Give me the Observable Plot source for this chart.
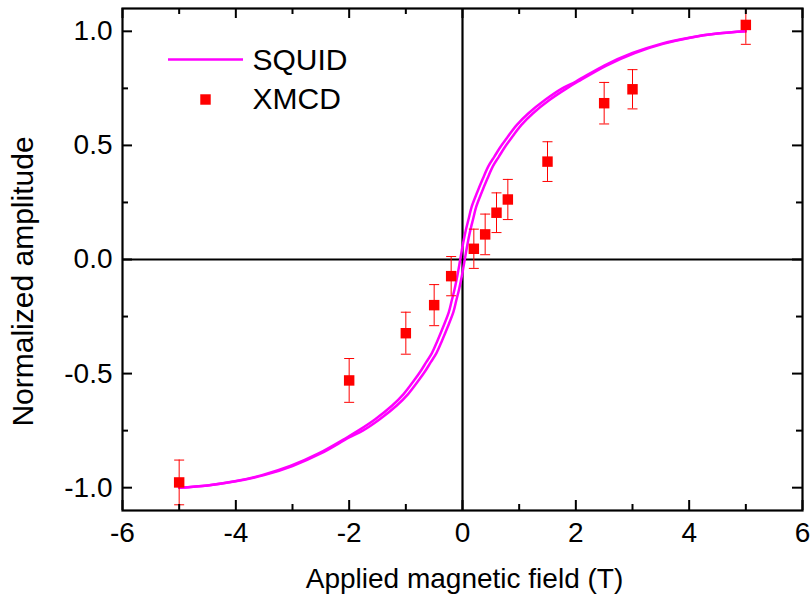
<!DOCTYPE html>
<html>
<head>
<meta charset="utf-8">
<script src="https://cdn.jsdelivr.net/npm/d3@7"></script>
<script src="https://cdn.jsdelivr.net/npm/@observablehq/plot@0.6"></script>
<style>
  html, body { margin: 0; padding: 0; background: #fff; }
  #chart { width: 811px; height: 596px; }
</style>
</head>
<body>
<div id="chart"></div>
<script>
// ---- Data ----
const seriesNames = ["SQUID", "XMCD"];
const xTitle = "Applied magnetic field (T)";
const yTitle = "Normalized amplitude";

// SQUID hysteresis loop, ascending branch
const squidUpH = [-5, -4.5, -4, -3.5, -3, -2.5, -2, -1.76, -1.46, -1.16, -0.96, -0.76, -0.66, -0.56, -0.46, -0.36, -0.26, -0.16, -0.11, -0.06, -0.01, 0.04, 0.09, 0.14, 0.19, 0.24, 0.34, 0.44, 0.54, 0.64, 0.74, 0.84, 1.04, 1.24, 1.54, 1.84, 2.04, 2.54, 3.04, 3.54, 4.02, 4.5, 5];
const squidUpM = [-1.0, -0.99, -0.972, -0.945, -0.905, -0.85, -0.78, -0.75, -0.70, -0.64, -0.59, -0.525, -0.49, -0.45, -0.41, -0.355, -0.295, -0.23, -0.18, -0.13, -0.07, 0, 0.07, 0.13, 0.18, 0.23, 0.295, 0.355, 0.41, 0.45, 0.49, 0.525, 0.59, 0.64, 0.70, 0.75, 0.78, 0.85, 0.905, 0.945, 0.972, 0.99, 1.0];
// SQUID hysteresis loop, descending branch
const squidDownH = [5, 4.5, 4, 3.5, 3, 2.5, 2, 1.76, 1.46, 1.16, 0.96, 0.76, 0.66, 0.56, 0.46, 0.36, 0.26, 0.16, 0.11, 0.06, 0.01, -0.04, -0.09, -0.14, -0.19, -0.24, -0.34, -0.44, -0.54, -0.64, -0.74, -0.84, -1.04, -1.24, -1.54, -1.84, -2.04, -2.54, -3.04, -3.54, -4.02, -4.5, -5];
const squidDownM = [1.0, 0.99, 0.972, 0.945, 0.905, 0.85, 0.78, 0.75, 0.70, 0.64, 0.59, 0.525, 0.49, 0.45, 0.41, 0.355, 0.295, 0.23, 0.18, 0.13, 0.07, 0, -0.07, -0.13, -0.18, -0.23, -0.295, -0.355, -0.41, -0.45, -0.49, -0.525, -0.59, -0.64, -0.70, -0.75, -0.78, -0.85, -0.905, -0.945, -0.972, -0.99, -1.0];

// XMCD points with error bars
const xmcdH   = [-5, -2, -1, -0.5, -0.2, 0.2, 0.4, 0.6, 0.8, 1.5, 2.5, 3, 5];
const xmcdM   = [-0.977, -0.53, -0.323, -0.2, -0.073, 0.047, 0.11, 0.205, 0.263, 0.429, 0.685, 0.746, 1.028];
const xmcdErr = [0.098, 0.096, 0.092, 0.09, 0.086, 0.086, 0.089, 0.087, 0.088, 0.087, 0.091, 0.086, 0.085];

// Axis ticks
const xMajorTicks = [-6, -4, -2, 0, 2, 4, 6];
const xMinorTicks = [-5, -3, -1, 1, 3, 5];
const yMajorTicks = [-1, -0.5, 0, 0.5, 1];
const yMinorTicks = [-0.75, -0.25, 0.25, 0.75];

// ---- Build tables ----
const squid = [
  ...squidUpH.map((h, i) => ({h, m: squidUpM[i], branch: "up"})),
  ...squidDownH.map((h, i) => ({h, m: squidDownM[i], branch: "down"}))
];
const xmcd = xmcdH.map((h, i) => ({h, m: xmcdM[i], e: xmcdErr[i]}));

// ---- Layout ----
const W = 811, H = 596;
const mL = 122, mR = 9, mT = 8, mB = 86;
const pw = W - mL - mR, ph = H - mT - mB;
const majLen = 10, minLen = 6;

const hline = {
  draw(context, size) {
    const w = Math.sqrt(size / Math.PI);
    context.moveTo(-w, 0);
    context.lineTo(w, 0);
  }
};

const magenta = "#ff00ff";
const red = "#ff0000";

const chart = Plot.plot({
  width: W, height: H,
  marginLeft: mL, marginRight: mR, marginTop: mT, marginBottom: mB,
  x: {domain: [-6, 6]},
  y: {domain: [-1.1, 1.1]},
  style: {fontFamily: "'Liberation Sans', Arial, sans-serif", fontSize: "28px", color: "black", background: "white"},
  marks: [
    // zero lines
    Plot.ruleX([0], {stroke: "black", strokeWidth: 2.2}),
    Plot.ruleY([0], {stroke: "black", strokeWidth: 2.2}),
    // SQUID loop
    Plot.line(squid, {x: "h", y: "m", z: "branch", stroke: magenta, strokeWidth: 2.5, curve: "catmull-rom"}),
    // XMCD error bars
    Plot.ruleX(xmcd, {x: "h", y1: d => d.m - d.e, y2: d => d.m + d.e, stroke: red, strokeWidth: 1, clip: true}),
    Plot.dot(xmcd, {x: "h", y: d => d.m + d.e, symbol: hline, r: 5, stroke: red, strokeWidth: 1, fill: "none", clip: true}),
    Plot.dot(xmcd, {x: "h", y: d => d.m - d.e, symbol: hline, r: 5, stroke: red, strokeWidth: 1, fill: "none", clip: true}),
    // XMCD markers
    Plot.dot(xmcd, {x: "h", y: "m", symbol: "square", r: 5.9, fill: red, stroke: "none"}),
    // inward ticks
    Plot.tickX(xMajorTicks, {x: d => d, insetTop: ph - majLen, stroke: "black", strokeWidth: 2}),
    Plot.tickX(xMajorTicks, {x: d => d, insetBottom: ph - majLen, stroke: "black", strokeWidth: 2}),
    Plot.tickX(xMinorTicks, {x: d => d, insetTop: ph - minLen, stroke: "black", strokeWidth: 2}),
    Plot.tickX(xMinorTicks, {x: d => d, insetBottom: ph - minLen, stroke: "black", strokeWidth: 2}),
    Plot.tickY(yMajorTicks, {y: d => d, insetRight: pw - majLen, stroke: "black", strokeWidth: 2}),
    Plot.tickY(yMajorTicks, {y: d => d, insetLeft: pw - majLen, stroke: "black", strokeWidth: 2}),
    Plot.tickY(yMinorTicks, {y: d => d, insetRight: pw - minLen, stroke: "black", strokeWidth: 2}),
    Plot.tickY(yMinorTicks, {y: d => d, insetLeft: pw - minLen, stroke: "black", strokeWidth: 2}),
    // tick labels
    Plot.axisX(xMajorTicks, {tickSize: 0, tickPadding: 12, tickFormat: d => String(d), label: null}),
    Plot.axisY(yMajorTicks, {tickSize: 0, tickPadding: 10, tickFormat: d => d.toFixed(1), label: null}),
    // axis titles
    Plot.text([xTitle], {text: d => d, frameAnchor: "bottom", textAnchor: "middle", dx: 2, dy: 69, lineAnchor: "middle", fontSize: 28}),
    Plot.text([yTitle], {text: d => d, frameAnchor: "left", textAnchor: "middle", rotate: -90, dx: -99, dy: 22, lineAnchor: "middle", fontSize: 30}),
    // legend
    Plot.dot([seriesNames[0]], {frameAnchor: "top-left", dx: 83, dy: 51, symbol: hline, r: 37.5, stroke: magenta, strokeWidth: 2.5, fill: "none"}),
    Plot.dot([seriesNames[1]], {frameAnchor: "top-left", dx: 83, dy: 91, symbol: "square", r: 5.9, fill: red, stroke: "none"}),
    Plot.text([seriesNames[0]], {text: d => d, frameAnchor: "top-left", dx: 130, dy: 52, textAnchor: "start", lineAnchor: "middle", fontSize: 30}),
    Plot.text([seriesNames[1]], {text: d => d, frameAnchor: "top-left", dx: 130, dy: 91, textAnchor: "start", lineAnchor: "middle", fontSize: 30}),
    // frame
    Plot.frame({stroke: "black", strokeWidth: 2.2})
  ]
});
document.getElementById("chart").appendChild(chart);
</script>
</body>
</html>
